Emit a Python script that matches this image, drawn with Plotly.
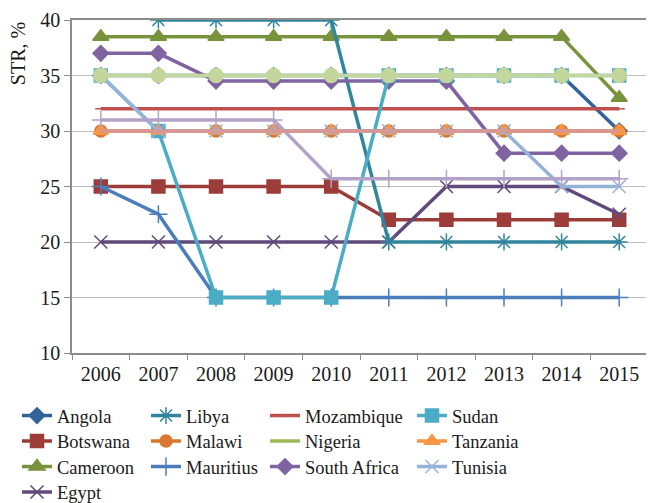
import plotly.graph_objects as go

years = ["2006", "2007", "2008", "2009", "2010", "2011", "2012", "2013", "2014", "2015"]

angola       = [35, 35, 35, 35, 35, 35, 35, 35, 35, 30]
botswana     = [25, 25, 25, 25, 25, 22, 22, 22, 22, 22]
cameroon     = [38.5, 38.5, 38.5, 38.5, 38.5, 38.5, 38.5, 38.5, 38.5, 33]
egypt        = [20, 20, 20, 20, 20, 20, 25, 25, 25, 22.5]
libya        = [None, 40, 40, 40, 40, 20, 20, 20, 20, 20]
malawi       = [30, 30, 30, 30, 30, 30, 30, 30, 30, 30]
mauritius    = [25, 22.5, 15, 15, 15, 15, 15, 15, 15, 15]
mozambique   = [32, 32, 32, 32, 32, 32, 32, 32, 32, 32]
nigeria      = [30, 30, 30, 30, 30, 30, 30, 30, 30, 30]
south_africa = [37, 37, 34.5, 34.5, 34.5, 34.5, 34.5, 28, 28, 28]
sudan        = [35, 30, 15, 15, 15, 35, 35, 35, 35, 35]
tanzania     = [30, 30, 30, 30, 30, 30, 30, 30, 30, 30]
tunisia      = [35, 30, 30, 30, 30, 30, 30, 30, 25, 25]
# unlabelled series visible in the plot but absent from the legend
extra_lavender = [31, 31, 31, 31, 25.7, 25.7, 25.7, 25.7, 25.7, 25.7]
extra_salmon   = [30, 30, 30, 30, 30, 30, 30, 30, 30, 30]
extra_green    = [35, 35, 35, 35, 35, 35, 35, 35, 35, 35]

# name, values, color, marker symbol, marker size, legend slot (row, col)
series = [
    ("Angola", angola, "#31629b", "diamond", 12, (0, 0)),
    ("Botswana", botswana, "#9c3d3a", "square", 13, (1, 0)),
    ("Cameroon", cameroon, "#77933c", "triangle-up", 14, (2, 0)),
    ("Egypt", egypt, "#604a7b", "x-thin-open", 13, (3, 0)),
    ("Libya", libya, "#31859c", "asterisk-open", 14, (0, 1)),
    ("Malawi", malawi, "#d8792f", "circle", 12, (1, 1)),
    ("Mauritius", mauritius, "#4a7ebb", "cross-thin-open", 13, (2, 1)),
    ("Mozambique", mozambique, "#c0504d", "line-ew-open", 8, (0, 2)),
    ("Nigeria", nigeria, "#9bbb59", None, 0, (1, 2)),
    ("South Africa", south_africa, "#8064a2", "diamond", 12, (2, 2)),
    ("Sudan", sudan, "#4bacc6", "square", 13, (0, 3)),
    ("Tanzania", tanzania, "#f79646", "triangle-up", 13, (1, 3)),
    ("Tunisia", tunisia, "#95b3d7", "x-thin-open", 13, (2, 3)),
]
extras = [
    (extra_lavender, "#b3a2c7", "cross-thin-open", 13),
    (extra_salmon, "#d99694", None, 0),
    (extra_green, "#c3d69b", "circle", 14),
]

# the page body adds an 8px margin, so the figure is drawn 8px in from the window edge
W, H = 646, 495
col_text_x = [58, 187, 306, 453]     # where each legend column's text starts (window px)
row_y = [415, 440.5, 466, 491.5]     # legend row centres (window px)

fig = go.Figure()
layout_legends = {}
for i, (name, vals, color, sym, size, (r, c)) in enumerate(series):
    lid = "legend" if i == 0 else f"legend{i+1}"
    mode = "lines+markers" if sym else "lines"
    marker = dict(symbol=sym, size=size, color=color, line=dict(color=color, width=1.5)) if sym else None
    fig.add_trace(go.Scatter(
        x=years, y=vals, name=name, mode=mode,
        line=dict(color=color, width=3.5),
        marker=marker, legend=lid, connectgaps=False,
    ))
    layout_legends[lid] = dict(
        xref="container", yref="container",
        x=(col_text_x[c] - 49) / W, y=1 - (row_y[r] - 7) / H,
        xanchor="left", yanchor="middle",
        bgcolor="rgba(0,0,0,0)", borderwidth=0,
        font=dict(family="Liberation Serif", size=18.5, color="#1a1a1a"),
        itemwidth=30,
    )

for vals, color, sym, size in extras:
    mode = "lines+markers" if sym else "lines"
    marker = dict(symbol=sym, size=size, color=color, line=dict(color=color, width=1.5)) if sym else None
    fig.add_trace(go.Scatter(
        x=years, y=vals, mode=mode, showlegend=False,
        line=dict(color=color, width=3.5), marker=marker,
    ))

fig.update_layout(
    width=W, height=H,
    margin=dict(l=64, r=6, t=12, b=150, autoexpand=False),
    plot_bgcolor="white", paper_bgcolor="white",
    font=dict(family="Liberation Serif", size=20, color="#1a1a1a"),
    xaxis=dict(
        type="category", tickson="boundaries", ticks="outside", ticklen=5,
        tickcolor="#8c8c8c", showline=True, linecolor="#8c8c8c", linewidth=1.5,
        mirror=True, showgrid=False, tickfont=dict(size=20),
        range=[-0.5, 9.5], automargin=False, ticklabelstandoff=2,
    ),
    yaxis=dict(
        range=[10, 40], dtick=5, ticks="outside", ticklen=6,
        tickcolor="#8c8c8c", showline=True, linecolor="#8c8c8c", linewidth=1.5,
        mirror=True, gridcolor="#bdbdbd", gridwidth=1, tickfont=dict(size=20),
        zeroline=False, automargin=False,
    ),
    annotations=[dict(
        text="STR, %", textangle=-90, xref="paper", yref="paper",
        x=-0.094, y=0.90, xanchor="center", yanchor="middle", showarrow=False,
        font=dict(family="Liberation Serif", size=20, color="#1a1a1a"),
    )],
    **layout_legends,
)

fig.write_html("out.html")
